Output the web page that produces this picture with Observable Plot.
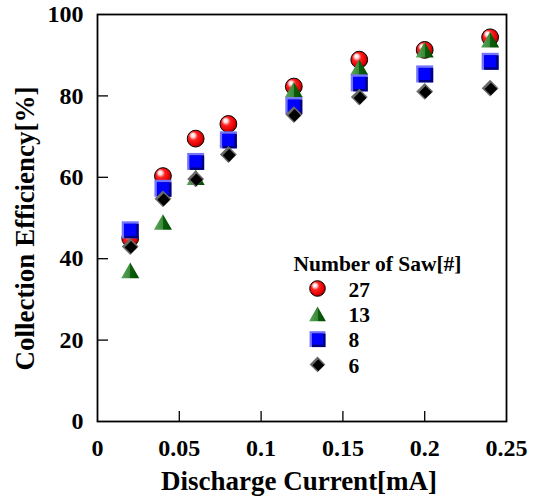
<!DOCTYPE html>
<html><head><meta charset="utf-8">
<script src="https://cdn.jsdelivr.net/npm/d3@7"></script>
<script src="https://cdn.jsdelivr.net/npm/@observablehq/plot@0.6"></script>
<style>body{margin:0;background:#fff}</style>
</head><body><div id="chart"></div>
<script>
// Data
const current = [0.02, 0.04, 0.06, 0.08, 0.12, 0.16, 0.2, 0.24];
const saw27 = [45.0, 60.3, 69.5, 73.1, 82.3, 88.9, 91.3, 94.4];
const saw13 = [37.1, 49.0, 60.0, 69.5, 81.5, 87.0, 91.3, 93.8];
const saw8  = [47.1, 57.3, 63.9, 69.2, 77.6, 83.2, 85.4, 88.5];
const saw6  = [43.0, 54.7, 59.6, 65.6, 75.4, 79.7, 81.1, 81.9];
const legendTitle = "Number of Saw[#]";
const legendLabels = ["27", "13", "8", "6"];
const xTicks = [0, 0.05, 0.1, 0.15, 0.2, 0.25];
const yTicks = [0, 20, 40, 60, 80, 100];
const xLabel = "Discharge Current[mA]";
const yLabel = "Collection Efficiency[%]";

const W = 537, H = 499, mL = 97, mR = 31, mT = 14, mB = 78;
const fw = W - mL - mR, fh = H - mT - mB;
const font = "Liberation Serif, Times New Roman, serif";

const rows = vals => current.map((x, i) => ({x, y: vals[i]}));

const S = {
  circle: [{symbol: "circle", r: 8.4, fill: "url(#gRed)", stroke: "#000", strokeWidth: 1}],
  triangle: [{symbol: "triangle", r: 6.7, fill: "url(#gGreen)", dy: 2.5}],
  square: [
    {symbol: "square", r: 9.6, fill: "#7474ff"},
    {symbol: "square", r: 8.2, fill: "#00007a", dx: 1.25, dy: 1.25},
    {symbol: "square", r: 6.8, fill: "#0000ff"}
  ],
  diamond: [
    {symbol: "diamond2", r: 7.6, fill: "#6a6a6a"},
    {symbol: "diamond2", r: 5.7, fill: "#000", dx: 0.8, dy: 0.8}
  ]
};
const series = [
  {vals: saw27, shape: "circle"},
  {vals: saw13, shape: "triangle"},
  {vals: saw8, shape: "square"},
  {vals: saw6, shape: "diamond"}
];

const txt = {fontFamily: font, fontWeight: "bold", fill: "#000"};
const marks = [];
marks.push(Plot.tickY(yTicks.filter(d => d > 0 && d < 100), {y: d => d, stroke: "#000", strokeWidth: 1.3, insetRight: fw - 11}));
marks.push(Plot.tickX(xTicks.filter(d => d > 0 && d < 0.25), {x: d => d, stroke: "#000", strokeWidth: 1.3, insetTop: fh - 10}));
marks.push(Plot.frame({stroke: "#000", strokeWidth: 1.8}));
marks.push(Plot.axisX({ticks: xTicks, tickSize: 0, tickPadding: 17, fontSize: 24, tickFormat: d => String(d), label: null, ...txt}));
marks.push(Plot.axisY({ticks: yTicks, tickSize: 0, tickPadding: 14, fontSize: 24, tickFormat: d => String(d), label: null, ...txt}));

for (const s of series)
  for (const st of S[s.shape])
    marks.push(Plot.dot(rows(s.vals), {x: "x", y: "y", ...st}));

// Legend
marks.push(Plot.text([legendTitle], {frameAnchor: "top-left", lineAnchor: "middle", dx: 196, dy: 250, text: d => d, textAnchor: "start", fontSize: 21.5, ...txt}));
legendLabels.forEach((lab, i) => {
  const rowY = 274 + 25.3 * i;
  for (const st of S[series[i].shape])
    marks.push(Plot.dot([0], {frameAnchor: "top-left", ...st, r: st.r * 0.93, dx: 220 + (st.dx || 0), dy: rowY + (st.dy || 0)}));
  marks.push(Plot.text([lab], {frameAnchor: "top-left", lineAnchor: "middle", dx: 251, dy: rowY + 1.5, text: d => d, textAnchor: "start", fontSize: 21.5, ...txt}));
});

// Axis titles
marks.push(Plot.text([xLabel], {frameAnchor: "bottom", lineAnchor: "middle", textAnchor: "middle", dx: -3, dy: 59.5, text: d => d, fontSize: 27, ...txt}));
marks.push(Plot.text([yLabel], {frameAnchor: "left", lineAnchor: "middle", textAnchor: "middle", rotate: -90, dx: -72.6, dy: 10.5, text: d => d, fontSize: 27, ...txt}));

const svg = Plot.plot({
  width: W, height: H,
  marginLeft: mL, marginRight: mR, marginTop: mT, marginBottom: mB,
  x: {domain: [0, 0.25], label: null},
  y: {domain: [0, 100], label: null},
  style: {fontFamily: font, fontWeight: "bold", background: "#fff", color: "#000", overflow: "visible"},
  marks
});

const defs = d3.select(svg).insert("defs", ":first-child");
const rg = defs.append("radialGradient").attr("id", "gRed")
  .attr("cx", 0.42).attr("cy", 0.42).attr("r", 0.62).attr("fx", 0.32).attr("fy", 0.28);
[[0, "#ffffff"], [0.18, "#ffe0e0"], [0.42, "#ff2020"], [0.8, "#e00000"], [1, "#880000"]]
  .forEach(([o, c]) => rg.append("stop").attr("offset", o).attr("stop-color", c));
const lg = defs.append("linearGradient").attr("id", "gGreen").attr("x1", 0).attr("x2", 1).attr("y1", 0).attr("y2", 0);
[[0, "#5aa55a"], [0.5, "#3a8a3a"], [0.5, "#0c600c"], [1, "#004a00"]]
  .forEach(([o, c]) => lg.append("stop").attr("offset", o).attr("stop-color", c));

document.getElementById("chart").appendChild(svg);
</script>
</body></html>
